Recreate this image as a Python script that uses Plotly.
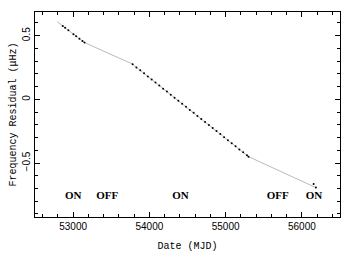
import plotly.graph_objects as go

# Model (thin grey line) vertices
line_mjd = [52790, 53150, 53450, 53770, 54300, 54800, 55300, 55700, 56184]
line_res = [0.610, 0.446, 0.365, 0.280, 0.027, -0.212, -0.450, -0.560, -0.693]

# Measured points (black dots)
dot_mjd = [52864, 52895, 52938, 53004, 53039, 53083, 53122, 53149,
           53780, 53830, 53880, 53930, 53980, 54030, 54080, 54130, 54180, 54230,
           54280, 54330, 54380, 54430, 54480, 54530, 54580, 54630, 54680, 54730,
           54780, 54830, 54880, 54930, 54980, 55030, 55080, 55130, 55180, 55230,
           55280, 55300, 56154, 56184]
dot_res = [0.576, 0.562, 0.542, 0.512, 0.496, 0.476, 0.458, 0.446,
           0.275, 0.251, 0.228, 0.204, 0.180, 0.156, 0.132, 0.108, 0.084, 0.061,
           0.037, 0.013, -0.011, -0.035, -0.059, -0.083, -0.106, -0.130, -0.154, -0.178,
           -0.202, -0.226, -0.249, -0.273, -0.297, -0.321, -0.345, -0.369, -0.393, -0.416,
           -0.440, -0.450, -0.664, -0.693]

# State labels
state_text = ["ON", "OFF", "ON", "OFF", "ON"]
state_mjd = [53000, 53447, 54408, 55684, 56158]
state_y = [-0.76, -0.76, -0.76, -0.76, -0.76]

fig = go.Figure()
fig.add_trace(go.Scatter(x=line_mjd, y=line_res, mode="lines",
                         line=dict(color="#a8a8a8", width=0.8), showlegend=False,
                         hoverinfo="skip"))
fig.add_trace(go.Scatter(x=dot_mjd, y=dot_res, mode="markers",
                         marker=dict(color="black", size=2), showlegend=False))
fig.add_trace(go.Scatter(x=state_mjd, y=state_y, mode="text", text=state_text,
                         textfont=dict(family="Liberation Serif", size=11, color="black"),
                         texttemplate="<b>%{text}</b>", showlegend=False))

axis_common = dict(showgrid=False, zeroline=False, showline=True, linecolor="black",
                   linewidth=1, mirror="ticks", ticks="inside", ticklen=5,
                   tickcolor="black", tickwidth=1, automargin=False,
                   tickfont=dict(family="Liberation Sans", size=10, color="black"))

title_font = dict(family="Courier New, Liberation Mono, monospace", size=10, color="black")

fig.update_layout(
    width=353, height=257,
    margin=dict(l=35, r=13, t=12, b=40),
    plot_bgcolor="white", paper_bgcolor="white",
    xaxis=dict(range=[52500, 56500], tickvals=[53000, 54000, 55000, 56000],
               ticktext=["53000", "54000", "55000", "56000"],
               minor=dict(dtick=200, ticks="inside", ticklen=3, tickcolor="black"),
               title=dict(text="Date (MJD)", standoff=10, font=title_font),
               **axis_common),
    yaxis=dict(range=[-0.924, 0.686], tickvals=[-0.5, 0, 0.5],
               ticktext=["\u22120.5", "0", "0.5"], tickangle=-90,
               minor=dict(dtick=0.1, tick0=0, ticks="inside", ticklen=3, tickcolor="black"),
               title=dict(text="Frequency Residual (\u03bcHz)", standoff=2, font=title_font),
               **axis_common),
)

fig.write_html("out.html", config={"displayModeBar": False},
               post_script="document.body.style.margin='0';")
